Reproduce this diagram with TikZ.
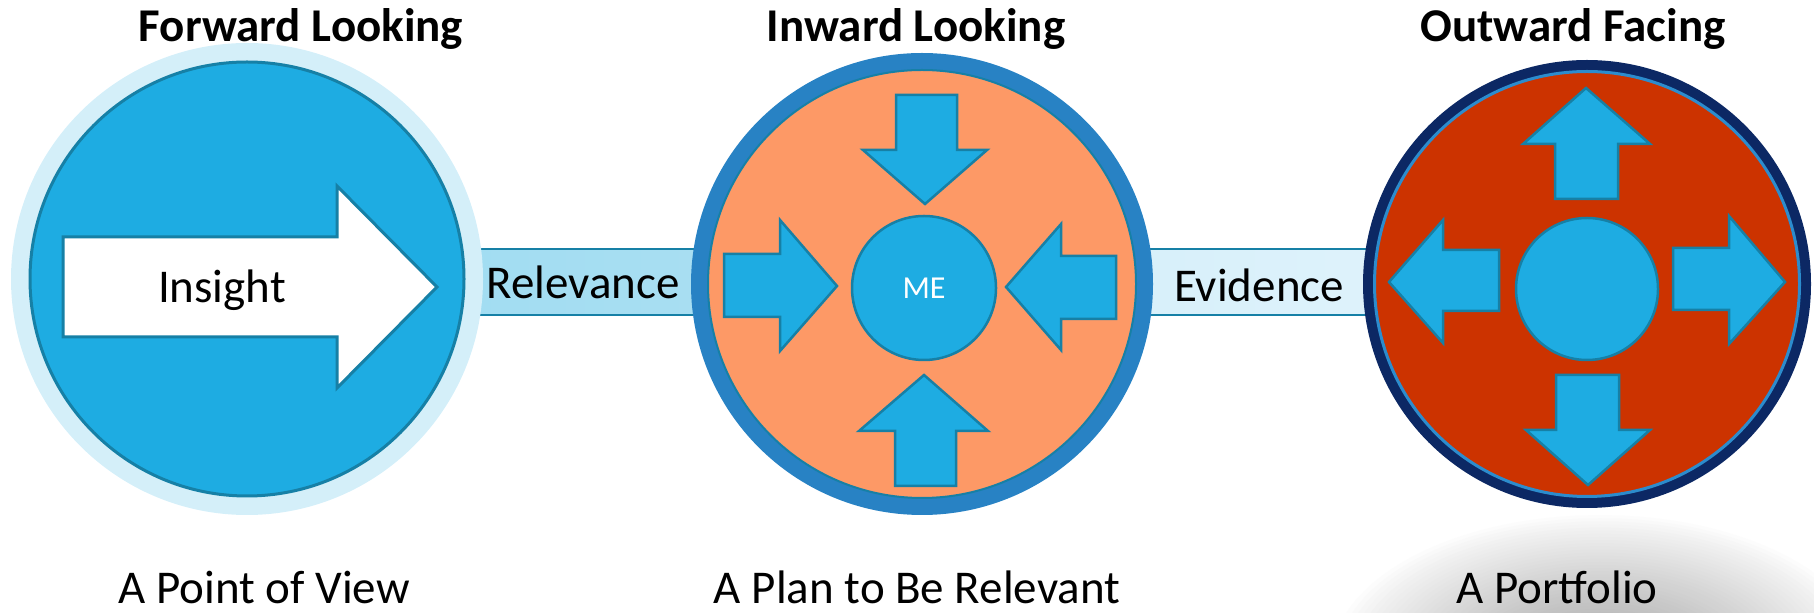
\documentclass[tikz,border=0pt]{standalone}
\usepackage{fontspec}
\setmainfont{Carlito}
\usetikzlibrary{calc}

\definecolor{ringlight}{RGB}{212,239,249}
\definecolor{cyanfill}{RGB}{30,172,226}
\definecolor{tealline}{RGB}{22,128,166}
\definecolor{midring}{RGB}{40,130,196}
\definecolor{peach}{RGB}{253,153,102}
\definecolor{navyring}{RGB}{12,40,100}
\definecolor{rimblue}{RGB}{44,140,205}
\definecolor{rust}{RGB}{204,51,0}
\definecolor{relA}{RGB}{156,219,243}
\definecolor{relB}{RGB}{174,224,241}
\definecolor{evA}{RGB}{209,237,249}
\definecolor{evB}{RGB}{228,245,252}
\definecolor{shadowgray}{gray}{0.64}

\tikzset{
  disc/.style={circle, inner sep=0pt, outer sep=0pt},
  blockarrow/.style={fill=cyanfill, draw=tealline, line width=1.25pt, line join=miter},
  bigtext/.style={anchor=base, inner sep=0pt, font=\fontsize{23.5}{28}\selectfont},
  heading/.style={bigtext, font=\fontsize{23.5}{28}\selectfont\bfseries},
  linkbar/.style={draw=tealline, line width=1pt},
}

\begin{document}
\begin{tikzpicture}[x=0.5pt, y=-0.5pt]
\useasboundingbox (0,0) rectangle (1814,613);

% soft floor shadow under the right-hand disc: nested ellipses, white outside to grey inside
\foreach \i in {0,...,48}{
  \pgfmathsetmacro\f{1-\i/48}
  \pgfmathsetmacro\p{100*(\i/48)^0.85}
  \fill[shadowgray!\p!white] (1600,662) ellipse [x radius=275*\f, y radius=150*\f];
}

% centres of the three discs
\coordinate (lc) at (247,279);
\coordinate (mc) at (922,284);
\coordinate (rc) at (1587,284);

% linking bars (their ends disappear under the discs)
\path[left color=relA, right color=relB] (lc |- 0,249) rectangle (mc |- 0,315);
\draw[linkbar] (lc |- 0,249) rectangle (mc |- 0,315);
\path[left color=evA, right color=evB] (mc |- 0,249) rectangle (rc |- 0,315);
\draw[linkbar] (mc |- 0,249) rectangle (rc |- 0,315);

% ---- left disc: forward looking ----
\node[disc, fill=ringlight, minimum size=236pt] (lring) at (lc) {};
\node[disc, fill=cyanfill, draw=tealline, line width=1.5pt, minimum size=217pt] (lcore) at (lc) {};
\filldraw[fill=white, draw=tealline, line width=1.5pt, line join=miter]
  (63,237) -- (337,237) -- (337,186) -- (437,287) -- (337,388) -- (337,337) -- (63,337) -- cycle;
\node[bigtext] (insight) at (222,303) {Insight};

% ---- middle disc: inward looking ----
\node[disc, fill=midring, minimum size=231pt] (mring) at (mc) {};
\node[disc, fill=peach, draw=tealline, line width=1pt, minimum size=214pt] (mcore) at (mc) {};
\filldraw[blockarrow] (896,95) -- (957,95) -- (957,150) -- (987,150) -- (925,204) -- (863,150) -- (896,150) -- cycle;
\filldraw[blockarrow] (895,486) -- (956,486) -- (956,431) -- (988,431) -- (924,375) -- (859,431) -- (895,431) -- cycle;
\filldraw[blockarrow] (724,254) -- (780,254) -- (780,220) -- (837,286) -- (780,351) -- (780,317) -- (724,317) -- cycle;
\filldraw[blockarrow] (1116,256) -- (1061,256) -- (1061,224) -- (1006,287) -- (1061,350) -- (1061,319) -- (1116,319) -- cycle;
\node[disc, fill=cyanfill, draw=tealline, line width=1.25pt, minimum size=72pt,
      text=white, font=\fontsize{16}{19}\selectfont] (me) at (924,288) {ME};

% ---- right disc: outward facing ----
\node[disc, fill=navyring, minimum size=224pt] (rring) at (rc) {};
\node[disc, fill=rust, draw=rimblue, line width=1.5pt, minimum size=212.5pt] (rcore) at (rc) {};
\filldraw[blockarrow] (1555,199) -- (1618,199) -- (1618,144) -- (1650,144) -- (1586,88) -- (1523,144) -- (1555,144) -- cycle;
\filldraw[blockarrow] (1556,375) -- (1619,375) -- (1619,430) -- (1650,430) -- (1588,485) -- (1526,430) -- (1556,430) -- cycle;
\filldraw[blockarrow] (1499,250) -- (1443,250) -- (1443,220) -- (1389,282) -- (1443,343) -- (1443,311) -- (1499,311) -- cycle;
\filldraw[blockarrow] (1673,248) -- (1729,248) -- (1729,216) -- (1785,282) -- (1729,344) -- (1729,310) -- (1673,310) -- cycle;
\node[disc, fill=cyanfill, draw=tealline, line width=1.25pt, minimum size=71pt] (hub) at (1587,289) {};

% ---- bar labels ----
\node[bigtext] (relevance) at (583,299) {Relevance};
\node[bigtext] (evidence) at (1259,302) {Evidence};

% ---- headings ----
\node[heading] (hfwd) at (301,42) {Forward Looking};
\node[heading] (hin) at (916,42) {Inward Looking};
\node[heading] (hout) at (1573,42) {Outward Facing};

% ---- captions ----
\node[bigtext] (cview) at (264,604) {A Point of View};
\node[bigtext] (cplan) at (917,604) {A Plan to Be Relevant};
\node[bigtext] (cport) at (1557,604) {A Portfolio};
\end{tikzpicture}
\end{document}
